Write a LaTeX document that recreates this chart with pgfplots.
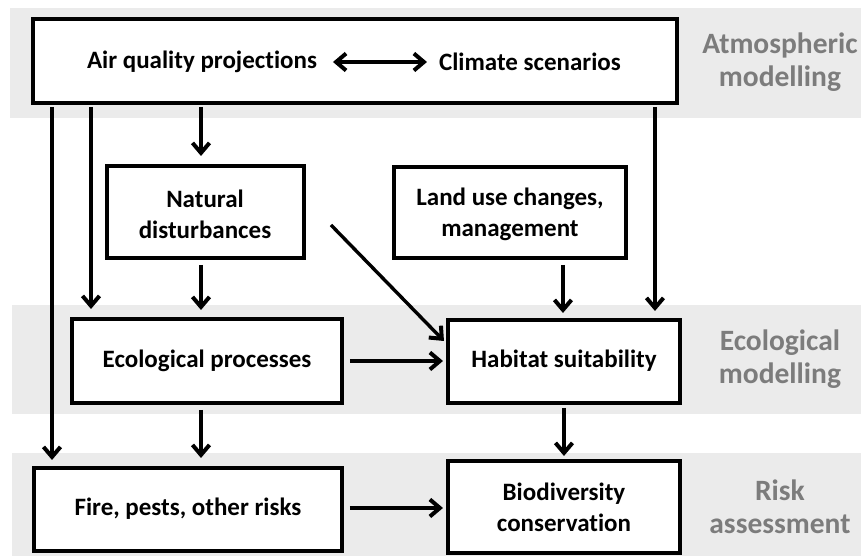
\documentclass[border=0pt]{standalone}
\usepackage{pgfplots}
\pgfplotsset{compat=1.18}
\usepackage{fontspec}
\setmainfont{Carlito}[Ligatures=NoCommon]
\usetikzlibrary{arrows.meta}
\definecolor{bandgray}{HTML}{EBEBEB}
\definecolor{labelgray}{HTML}{7C7C7C}
\tikzset{
  tip/.tip={Straight Barb[length=10pt,width=17pt,line width=4pt]},
  arr/.style={black, line width=3.4pt, -tip},
  dblarr/.style={black, line width=3.4pt, tip-tip},
  box/.style={draw=black, fill=white, line width=3.6pt},
  band/.style={draw=none, fill=bandgray},
  boxtext/.style={font=\fontsize{25}{31}\selectfont\bfseries, align=center, text=black},
  lab/.style={font=\fontsize{29.5}{33}\selectfont\bfseries, align=center, text=labelgray},
}
\begin{document}
\begin{tikzpicture}
\begin{axis}[
  width=861pt, height=556pt, scale only axis,
  xmin=0, xmax=861, ymin=0, ymax=556, y dir=reverse,
  hide axis, clip=false,
  every axis plot/.append style={line join=miter, mark=none},
]
\path[draw=none] (axis cs:0,0) rectangle (axis cs:861,556);
% bands
\addplot[band] coordinates {(10,8) (861,8) (861,118) (10,118)} -- cycle;
\addplot[band] coordinates {(12,305) (861,305) (861,414) (12,414)} -- cycle;
\addplot[band] coordinates {(12,453) (861,453) (861,556) (12,556)} -- cycle;
% boxes
\addplot[box] coordinates {(33,19) (677,19) (677,103) (33,103)} -- cycle;
\addplot[box] coordinates {(107,166) (304,166) (304,258) (107,258)} -- cycle;
\addplot[box] coordinates {(394,167) (626,167) (626,258) (394,258)} -- cycle;
\addplot[box] coordinates {(72,319) (342,319) (342,403) (72,403)} -- cycle;
\addplot[box] coordinates {(448,320) (680,320) (680,403) (448,403)} -- cycle;
\addplot[box] coordinates {(34,468) (342,468) (342,551) (34,551)} -- cycle;
\addplot[box] coordinates {(448,461) (680,461) (680,553) (448,553)} -- cycle;
% arrows
\addplot[arr] coordinates {(52,107) (52,460)};
\addplot[arr] coordinates {(91,107) (91,309)};
\addplot[arr] coordinates {(201,107) (201,156)};
\addplot[arr] coordinates {(201,265) (201,310)};
\addplot[arr] coordinates {(563,265) (563,313)};
\addplot[arr] coordinates {(655,107) (655,311)};
\addplot[arr] coordinates {(331,225) (444,341)};
\addplot[arr] coordinates {(350,361) (443,361)};
\addplot[arr] coordinates {(201,410) (201,458)};
\addplot[arr] coordinates {(564,408) (564,456)};
\addplot[arr] coordinates {(350,508) (443,508)};
\addplot[dblarr] coordinates {(333,62) (427,62)};
% texts
\node[boxtext] at (axis cs:202,62) {Air quality projections};
\node[boxtext] at (axis cs:530,62) {Climate scenarios};
\node[boxtext] at (axis cs:205,214) {Natural\\disturbances};
\node[boxtext] at (axis cs:510,214) {Land use changes,\\management};
\node[boxtext] at (axis cs:207,361) {Ecological processes};
\node[boxtext] at (axis cs:564,361) {Habitat suitability};
\node[boxtext] at (axis cs:188,509) {Fire, pests, other risks};
\node[boxtext] at (axis cs:564,507) {Biodiversity\\conservation};
\node[lab] at (axis cs:780,62) {Atmospheric\\modelling};
\node[lab] at (axis cs:780,359) {Ecological\\modelling};
\node[lab] at (axis cs:780,507) {Risk\\assessment};
\end{axis}
\end{tikzpicture}
\end{document}
